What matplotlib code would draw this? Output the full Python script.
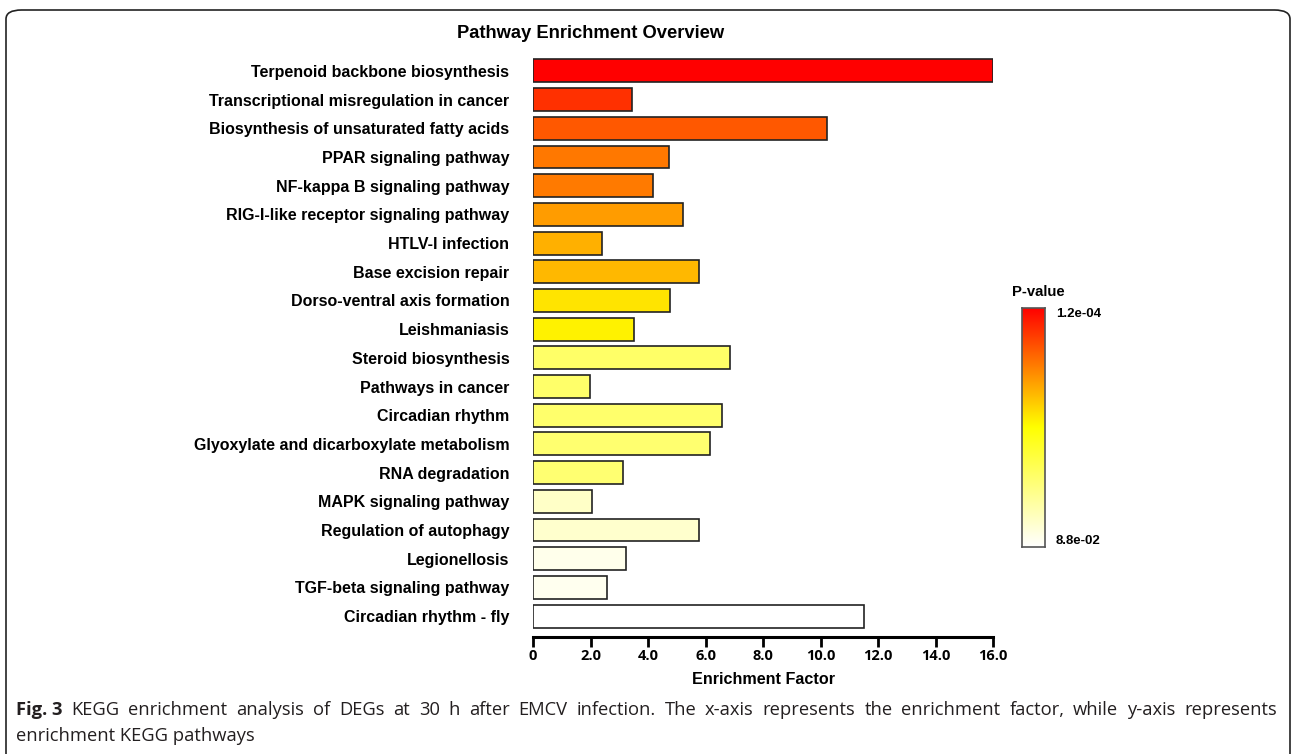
import numpy as np
import matplotlib
matplotlib.use("Agg")
import matplotlib.pyplot as plt
from matplotlib.colors import LinearSegmentedColormap, Normalize
from matplotlib.patches import FancyBboxPatch

pathways = [
    "Terpenoid backbone biosynthesis",
    "Transcriptional misregulation in cancer",
    "Biosynthesis of unsaturated fatty acids",
    "PPAR signaling pathway",
    "NF-kappa B signaling pathway",
    "RIG-I-like receptor signaling pathway",
    "HTLV-I infection",
    "Base excision repair",
    "Dorso-ventral axis formation",
    "Leishmaniasis",
    "Steroid biosynthesis",
    "Pathways in cancer",
    "Circadian rhythm",
    "Glyoxylate and dicarboxylate metabolism",
    "RNA degradation",
    "MAPK signaling pathway",
    "Regulation of autophagy",
    "Legionellosis",
    "TGF-beta signaling pathway",
    "Circadian rhythm - fly",
]
enrichment = [16.0, 3.46, 10.24, 4.73, 4.16, 5.21, 2.39, 5.77, 4.78, 3.50,
              6.84, 1.97, 6.58, 6.16, 3.12, 2.04, 5.77, 3.24, 2.58, 11.5]
pvalues = [1.2e-4, 2.23e-4, 3.76e-4, 5.66e-4, 5.85e-4, 9.04e-4, 1.17e-3, 1.30e-3,
           2.29e-3, 2.75e-3, 1.22e-2, 1.26e-2, 1.30e-2, 1.35e-2, 1.39e-2,
           4.26e-2, 4.55e-2, 6.76e-2, 6.99e-2, 8.8e-2]
p_min, p_max = 1.2e-4, 8.8e-2
xticks = [0, 2, 4, 6, 8, 10, 12, 14, 16]
xticklabels = ["0", "2.0", "4.0", "6.0", "8.0", "10.0", "12.0", "14.0", "16.0"]

caption_bold = "Fig. 3"
caption_line1 = ("KEGG enrichment analysis of DEGs at 30 h after EMCV infection. The x-axis "
                 "represents the enrichment factor, while y-axis represents")
caption_line2 = "enrichment KEGG pathways"

plt.rcParams["font.family"] = ["Liberation Sans", "DejaVu Sans"]

W, H = 1292, 754
fig = plt.figure(figsize=(W / 100, H / 100), dpi=100)

# white -> yellow -> red, on -log10(p)
cmap = LinearSegmentedColormap.from_list("pv", ["#FFFFFF", "#FFFF00", "#FF0000"])
score = -np.log10(pvalues)
norm = Normalize(vmin=-np.log10(p_max), vmax=-np.log10(p_min))

ax = fig.add_axes([533 / W, 1 - 637 / H, 460 / W, 587 / H])
ypos = np.arange(len(pathways))
ax.barh(ypos, enrichment, height=0.8, color=cmap(norm(score)),
        edgecolor="#222222", linewidth=1.2)
ax.set_ylim(len(pathways) - 1 + 0.73, -0.73)
ax.set_xlim(0, 16)
ax.set_yticks(ypos)
ax.set_yticklabels(pathways, fontsize=11.5, fontweight="bold")
ax.tick_params(axis="y", length=0, pad=17)
ax.set_xticks(xticks)
ax.set_xticklabels(xticklabels, fontsize=10.5, fontweight="bold", family="Open Sans")
ax.tick_params(axis="x", length=7, width=2, direction="out", pad=2)
for s in ["top", "right", "left"]:
    ax.spines[s].set_visible(False)
ax.spines["bottom"].set_linewidth(2.2)
ax.set_xlabel("Enrichment Factor", fontsize=11.6, fontweight="bold", labelpad=6)

fig.text(591 / W, 1 - 34 / H, "Pathway Enrichment Overview", ha="center", va="center",
         fontsize=13.2, fontweight="bold")

# colour scale
cax = fig.add_axes([1022 / W, 1 - 547 / H, 23 / W, 239 / H])
grad = np.linspace(0, 1, 256).reshape(-1, 1)
cax.imshow(grad, aspect="auto", cmap=cmap, origin="lower", extent=[0, 1, 0, 1])
cax.set_xticks([])
cax.set_yticks([])
for s in cax.spines.values():
    s.set_color("#555555")
    s.set_linewidth(1.2)
fig.text(1038 / W, 1 - 292 / H, "P-value", ha="center", va="center",
         fontsize=10.7, fontweight="bold")
fig.text(1056 / W, 1 - 314 / H, "%.1e" % p_min, ha="left", va="center",
         fontsize=9.5, fontweight="bold")
fig.text(1056 / W, 1 - 541 / H, "%.1e" % p_max, ha="left", va="center",
         fontsize=9.5, fontweight="bold")

# frame and caption
frame = FancyBboxPatch((6 / W, -0.05), 1284 / W, 1 - 10 / H + 0.05,
                       boxstyle="round,pad=0,rounding_size=0.012",
                       transform=fig.transFigure, fill=False,
                       edgecolor="#222222", linewidth=1.2, clip_on=False)
fig.patches.append(frame)

cap_font = dict(fontsize=13.2, family=["Open Sans", "DejaVu Sans"], color="#231f20")
fig.canvas.draw()
r = fig.canvas.get_renderer()

# first caption line is justified between the frame margins
x_left, x_right = 16, 1277
y1 = 1 - 710 / H
words = [(caption_bold, "bold")] + [(w, "normal") for w in caption_line1.split()]
items = []
total = 0.0
for w, weight in words:
    t = fig.text(0, y1, w, ha="left", va="center", fontweight=weight, **cap_font)
    wpx = t.get_window_extent(r).width
    items.append((t, wpx))
    total += wpx
gap = (x_right - x_left - total) / (len(items) - 1)
x = x_left
for t, wpx in items:
    t.set_x(x / W)
    x += wpx + gap
fig.text(x_left / W, 1 - 736 / H, caption_line2, ha="left", va="center", **cap_font)

fig.savefig("out.png", dpi=100)
